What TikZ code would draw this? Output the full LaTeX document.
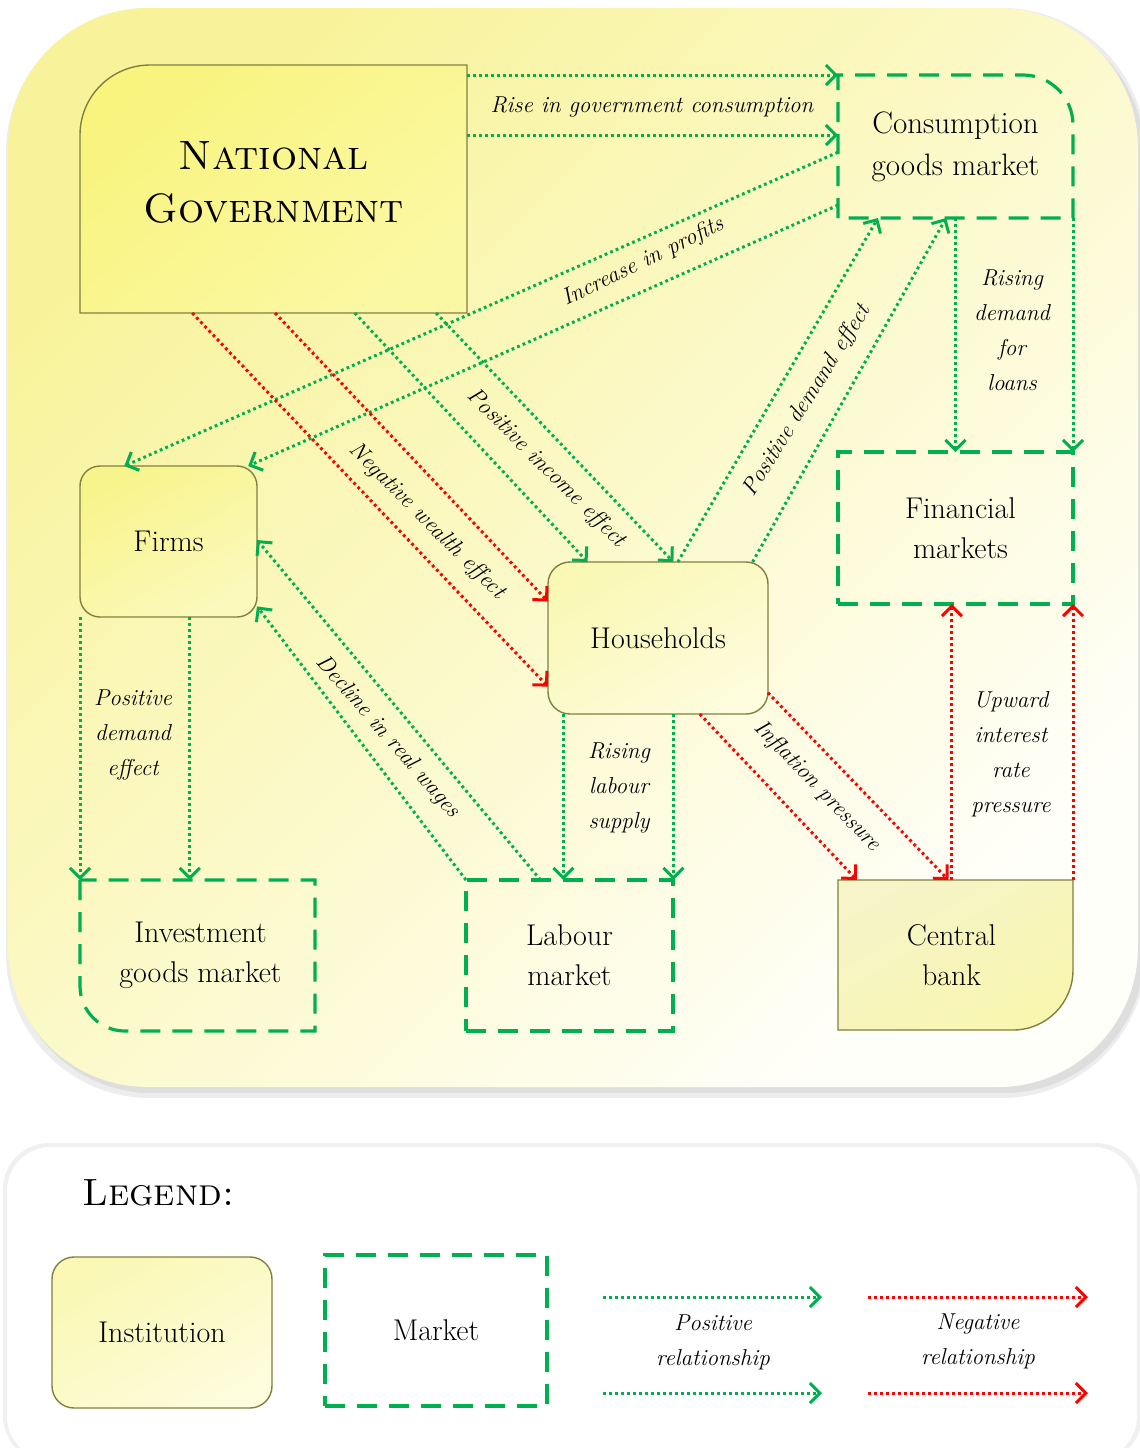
\documentclass[tikz,border=0pt]{standalone}
\usetikzlibrary{arrows.meta,calc,fit}
\pgfdeclarelayer{back}
\pgfdeclarelayer{shapes}
\pgfsetlayers{back,shapes,main}
\definecolor{gr}{HTML}{00B050}
\definecolor{rd}{HTML}{FF0000}
\definecolor{edgec}{HTML}{808040}
\definecolor{bgY}{HTML}{F8F39A}
\definecolor{bgW}{HTML}{FFFFFA}
\definecolor{govA}{HTML}{F9F47E}
\definecolor{govB}{HTML}{FBF8A4}
\definecolor{firA}{HTML}{F8F48C}
\definecolor{firB}{HTML}{FBF9BC}
\definecolor{hhA}{HTML}{FAF8B4}
\definecolor{hhB}{HTML}{FDFCDC}
\definecolor{cbA}{HTML}{F6F4C8}
\definecolor{cbB}{HTML}{F9F6B0}
\tikzset{
  posarr/.style={draw=gr, line width=1.5pt, dash pattern=on 1.4pt off 1.6pt,
    -{Straight Barb[length=5pt,width=10pt,line width=1.5pt]}},
  negarr/.style={posarr, draw=rd},
  mkt/.style={draw=gr, line width=1.6pt, dash pattern=on 10pt off 6pt},
  inst/.style={draw=edgec, line width=0.7pt},
  box/.style={inner sep=0pt, outer sep=0pt},
  txt/.style={inner sep=0pt, align=center, font=\fontsize{15}{20}\selectfont},
  lbl/.style={font=\fontsize{11.5}{17.5}\selectfont\itshape, align=center, inner sep=1pt},
}
\begin{document}
\begin{tikzpicture}[x=0.5pt,y=-0.5pt]
\useasboundingbox (0,0) rectangle (1140,1448);
\clip (0,0) rectangle (1140,1448);

% ---------- nodes ----------
\node[box, fit={(80,65) (467,313)},
  label={[txt, font=\fontsize{20.5}{26.5}\selectfont, yshift=3.5pt]center:\textsc{National}\\\textsc{Government}}] (gov) {};
\node[box, fit={(838,75) (1073,218)},
  label={[txt, font=\fontsize{15.5}{21}\selectfont]center:Consumption\\goods market}] (cons) {};
\node[box, fit={(80,466) (257,617)}, rounded corners=10pt, inst, top color=firA, bottom color=firB, shading angle=30,
  label={[txt]center:Firms}] (firms) {};
\node[box, fit={(548,562) (768,714)}, rounded corners=11pt, inst, top color=hhA, bottom color=hhB, shading angle=30,
  label={[txt]center:Households}] (hh) {};
\node[box, fit={(838,452) (1073,604)}, mkt,
  label={[txt, xshift=2.5pt]center:Financial\\markets}] (fin) {};
\node[box, fit={(80,880) (315,1031)},
  label={[txt, xshift=1.5pt]center:Investment\\goods market}] (inv) {};
\node[box, fit={(466,880) (673,1031)}, mkt,
  label={[txt]center:Labour\\market}] (lab) {};
\node[box, fit={(838,880) (1073,1030)},
  label={[txt, xshift=-2pt]center:Central\\bank}] (cb) {};

% legend nodes
\node[anchor=west, inner sep=0pt, font=\fontsize{19}{23}\selectfont] (legtitle) at (82,1193) {\textsc{Legend:}};
\node[box, fit={(52,1257) (272,1408)}, rounded corners=11pt, inst, top color=hhA, bottom color=hhB, shading angle=30,
  label={[txt]center:Institution}] (linst) {};
\node[box, fit={(325,1255) (547,1406)}, mkt,
  label={[txt]center:Market}] (lmkt) {};

% ---------- background shapes ----------
\begin{pgfonlayer}{back}
  \fill[black!7, rounded corners=72pt] (6,8) rectangle (1146,1098);
  \fill[black!13, rounded corners=70pt] (12,14) rectangle (1144,1093);
  \path[rounded corners=70pt, top color=bgY, bottom color=bgW, shading angle=45] (8,8) rectangle (1138,1087);
  \fill[black!6, rounded corners=23pt] (3,1143) rectangle (1142,1462);
  \path[rounded corners=22pt, fill=white] (7,1147) rectangle (1137,1460);
\end{pgfonlayer}

\begin{pgfonlayer}{shapes}
  % government: top-left rounded
  \path[inst, top color=govA, bottom color=govB, shading angle=40]
    (gov.south west) -- ($(gov.north west)+(0,70)$) arc[start angle=180, end angle=270, radius=70]
    -- (gov.north east) -- (gov.south east) -- cycle;
  % consumption goods market: top-right rounded
  \draw[mkt] (cons.south west) -- (cons.north west) -- ($(cons.north east)+(-50,0)$)
    arc[start angle=270, end angle=360, radius=50] -- (cons.south east) -- cycle;
  % investment goods market: bottom-left rounded
  \draw[mkt] (inv.north west) -- ($(inv.south west)+(0,-45)$)
    arc[start angle=180, end angle=90, radius=45] -- (inv.south east) -- (inv.north east) -- cycle;
  % central bank: bottom-right rounded
  \path[inst, top color=cbA, bottom color=cbB, shading angle=30]
    (cb.north west) -- (cb.north east) -- ($(cb.south east)+(0,-60)$)
    arc[start angle=0, end angle=90, radius=60] -- (cb.south west) -- cycle;
\end{pgfonlayer}

% ---------- connector end points ----------
\coordinate (a1) at ($(cons.north west)!0.42!(cons.south west)$);
\coordinate (b1s) at ($(cons.north west)!0.54!(cons.south west)$);
\coordinate (b1e) at ($(firms.north west)!0.25!(firms.north east)$);
\coordinate (b2s) at ($(cons.north west)!0.91!(cons.south west)$);
\coordinate (b2e) at ($(firms.north west)!0.95!(firms.north east)$);
\coordinate (c1s) at ($(gov.south west)!0.504!(gov.south east)$);
\coordinate (c1e) at ($(hh.north west)!0.26!(hh.south west)$);
\coordinate (c2s) at ($(gov.south west)!0.29!(gov.south east)$);
\coordinate (c2e) at ($(hh.north west)!0.82!(hh.south west)$);
\coordinate (d1s) at ($(gov.south west)!0.71!(gov.south east)$);
\coordinate (d1e) at ($(hh.north west)!0.18!(hh.north east)$);
\coordinate (d2s) at ($(gov.south west)!0.92!(gov.south east)$);
\coordinate (d2e) at ($(hh.north west)!0.57!(hh.north east)$);
\coordinate (e1s) at ($(hh.north west)!0.59!(hh.north east)$);
\coordinate (e1e) at ($(cons.south west)!0.17!(cons.south east)$);
\coordinate (e2s) at ($(hh.north west)!0.93!(hh.north east)$);
\coordinate (e2e) at ($(cons.south west)!0.46!(cons.south east)$);
\coordinate (f1) at ($(cons.south west)!0.5!(cons.south east)$);
\coordinate (g2) at ($(firms.south west)!0.62!(firms.south east)$);
\coordinate (h1e) at ($(firms.north east)!0.93!(firms.south east)$);
\coordinate (h2s) at ($(lab.north west)!0.36!(lab.north east)$);
\coordinate (h2e) at ($(firms.north east)!0.49!(firms.south east)$);
\coordinate (i1) at ($(hh.south west)!0.07!(hh.south east)$);
\coordinate (i2) at ($(hh.south west)!0.57!(hh.south east)$);
\coordinate (j1s) at ($(hh.south west)!0.69!(hh.south east)$);
\coordinate (j1e) at ($(cb.north west)!0.08!(cb.north east)$);
\coordinate (j2s) at ($(hh.north east)!0.86!(hh.south east)$);
\coordinate (j2e) at ($(cb.north west)!0.47!(cb.north east)$);
\coordinate (k1) at ($(cb.north west)!0.485!(cb.north east)$);

% ---------- connectors ----------
\draw[posarr] (gov.north east |- cons.north west) -- (cons.north west);
\draw[posarr] (gov.east |- a1) -- (a1);
\draw[posarr] (b1s) -- (b1e);
\draw[posarr] (b2s) -- (b2e);
\draw[negarr] (c1s) -- (c1e);
\draw[negarr] (c2s) -- (c2e);
\draw[posarr] (d1s) -- (d1e);
\draw[posarr] (d2s) -- (d2e);
\draw[posarr] (e1s) -- (e1e);
\draw[posarr] (e2s) -- (e2e);
\draw[posarr] (f1) -- (f1 |- fin.north);
\draw[posarr] (cons.south east) -- (fin.north east);
\draw[posarr] (firms.south west) -- (firms.south west |- inv.north);
\draw[posarr] (g2) -- (g2 |- inv.north);
\draw[posarr] (lab.north west) -- (h1e);
\draw[posarr] (h2s) -- (h2e);
\draw[posarr] (i1) -- (i1 |- lab.north);
\draw[posarr] (i2) -- (i2 |- lab.north);
\draw[negarr] (j1s) -- (j1e);
\draw[negarr] (j2s) -- (j2e);
\draw[negarr] (k1) -- (k1 |- fin.south);
\draw[negarr] (cb.north east) -- (fin.south east);

% ---------- connector labels ----------
\node[lbl] (l1) at (652,107) {Rise in government consumption};
\node[lbl, rotate=26] (l2) at (643,262) {Increase in profits};
\node[lbl, rotate=-45] (l3) at (427,521) {Negative wealth effect};
\node[lbl, rotate=-45] (l4) at (546,468) {Positive income effect};
\node[lbl, rotate=58] (l5) at (807,401) {Positive demand effect};
\node[lbl, rotate=-49] (l6) at (388,737) {Decline in real wages};
\node[lbl, rotate=-46] (l7) at (817,786) {Inflation pressure};
\node[lbl] (l8) at (1012,330) {Rising\\demand\\for\\loans};
\node[lbl] (l9) at (133,735) {Positive\\demand\\effect};
\node[lbl] (l10) at (619,788) {Rising\\labour\\supply};
\node[lbl] (l11) at (1011,754) {Upward\\interest\\rate\\pressure};

% ---------- legend arrows ----------
\coordinate (p1s) at (603,1297); \coordinate (p1e) at (822,1297);
\coordinate (p2s) at (603,1393); \coordinate (p2e) at (822,1393);
\coordinate (n1s) at (868,1297); \coordinate (n1e) at (1088,1297);
\coordinate (n2s) at (868,1393); \coordinate (n2e) at (1088,1393);
\draw[posarr] (p1s) -- (p1e);
\draw[posarr] (p2s) -- (p2e);
\draw[negarr] (n1s) -- (n1e);
\draw[negarr] (n2s) -- (n2e);
\node[lbl] (lp) at (713,1342) {Positive\\relationship};
\node[lbl] (ln) at (978,1341) {Negative\\relationship};
\end{tikzpicture}
\end{document}
